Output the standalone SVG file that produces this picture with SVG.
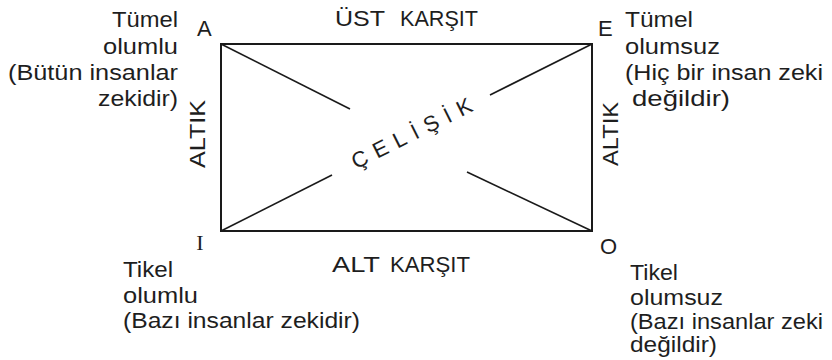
<svg xmlns="http://www.w3.org/2000/svg" width="832" height="360" viewBox="0 0 832 360">
<style>
text{font-family:"Liberation Sans",Arial,sans-serif;font-size:22px;fill:#1e1e1e}
.serif{font-family:"Liberation Serif","Times New Roman",serif}
.edge{stroke:#1a1a1a;stroke-width:2;fill:none}
.diag{stroke:#1a1a1a;stroke-width:1.6;fill:none}
</style>
<rect width="832" height="360" fill="#fff"/>
<g id="connectors">
<rect class="edge" x="221" y="44" width="371" height="187"/>
<line class="diag" x1="221" y1="44" x2="350" y2="109"/>
<line class="diag" x1="467" y1="172" x2="592" y2="231"/>
<line class="diag" x1="592" y1="44" x2="490" y2="95"/>
<line class="diag" x1="332" y1="175" x2="221" y2="231"/>
<text x="335" y="26" textLength="50" lengthAdjust="spacingAndGlyphs">ÜST</text>
<text x="400" y="26" textLength="78" lengthAdjust="spacingAndGlyphs">KARŞIT</text>
<text x="332" y="272" textLength="48" lengthAdjust="spacingAndGlyphs">ALT</text>
<text x="390" y="272" textLength="80" lengthAdjust="spacingAndGlyphs">KARŞIT</text>
<text transform="translate(205,134) rotate(-90)" text-anchor="middle" font-size="24" textLength="68" lengthAdjust="spacingAndGlyphs">ALTIK</text>
<text transform="translate(618,134) rotate(-90)" text-anchor="middle" font-size="24" textLength="64" lengthAdjust="spacingAndGlyphs">ALTIK</text>
<text transform="translate(415,140) rotate(-26.5)" text-anchor="middle" font-size="20" textLength="132" lengthAdjust="spacing">ÇELİŞİK</text>
</g>
<g id="node-A">
<text x="197" y="36">A</text>
<text x="178" y="27" text-anchor="end" textLength="66" lengthAdjust="spacingAndGlyphs">Tümel</text>
<text x="178" y="54" text-anchor="end" textLength="75" lengthAdjust="spacingAndGlyphs">olumlu</text>
<text x="178" y="80" text-anchor="end" textLength="170" lengthAdjust="spacingAndGlyphs">(Bütün insanlar</text>
<text x="178" y="106" text-anchor="end" textLength="80" lengthAdjust="spacingAndGlyphs">zekidir)</text>
</g>
<g id="node-E">
<text x="598" y="36">E</text>
<text x="625" y="27" textLength="68" lengthAdjust="spacingAndGlyphs">Tümel</text>
<text x="625" y="54" textLength="95" lengthAdjust="spacingAndGlyphs">olumsuz</text>
<text x="625" y="80" textLength="198" lengthAdjust="spacingAndGlyphs">(Hiç bir insan zeki</text>
<text x="632" y="106" textLength="98" lengthAdjust="spacingAndGlyphs">değildir)</text>
</g>
<g id="node-I">
<text class="serif" x="200" y="250" text-anchor="middle" font-size="24">I</text>
<text x="123" y="277" textLength="50" lengthAdjust="spacingAndGlyphs">Tikel</text>
<text x="123" y="303" textLength="75" lengthAdjust="spacingAndGlyphs">olumlu</text>
<text x="123" y="328" textLength="237" lengthAdjust="spacingAndGlyphs">(Bazı insanlar zekidir)</text>
</g>
<g id="node-O">
<text x="600" y="254">O</text>
<text x="630" y="280" textLength="48" lengthAdjust="spacingAndGlyphs">Tikel</text>
<text x="630" y="305" textLength="93" lengthAdjust="spacingAndGlyphs">olumsuz</text>
<text x="630" y="329" textLength="193" lengthAdjust="spacingAndGlyphs">(Bazı insanlar zeki</text>
<text x="630" y="352" textLength="87" lengthAdjust="spacingAndGlyphs">değildir)</text>
</g>
</svg>
